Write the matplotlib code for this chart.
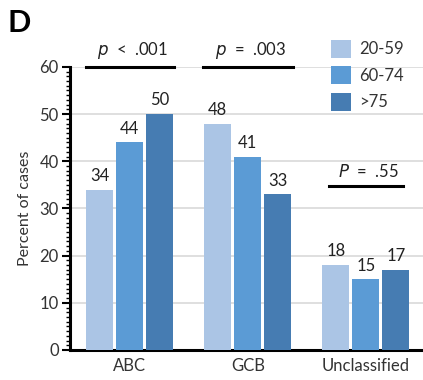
import numpy as np
import matplotlib.pyplot as plt
from matplotlib.ticker import MultipleLocator

plt.rcParams['font.family'] = ['Lato', 'DejaVu Sans']

categories = ['ABC', 'GCB', 'Unclassified']
age_groups = ['20-59', '60-74', '>75']
values = {
    '20-59': [34, 48, 18],
    '60-74': [44, 41, 15],
    '>75': [50, 33, 17],
}
p_labels = [r'$p$  <  .001', r'$p$  =  .003', r'$P$  =  .55']
p_line_y = [60, 60, 34.7]
p_half = [0.375, 0.38, 0.31]

colors = ['#abc5e5', '#5b9bd5', '#467cb2']

fig = plt.figure(figsize=(4.23, 3.80), dpi=100)
ax = fig.add_axes([0.165, 0.079, 0.835, 0.745])

x = np.arange(len(categories))
width = 0.229
step = 0.254
for i, grp in enumerate(age_groups):
    xs = x + (i - 1) * step
    ax.bar(xs, values[grp], width, color=colors[i], label=grp, zorder=3)
    for xx, v in zip(xs, values[grp]):
        ax.text(xx, v + 1.2, str(v), ha='center', va='bottom', fontsize=12, color='#222222')

# significance bars above each group
for xc, lab, ly, hw in zip(x, p_labels, p_line_y, p_half):
    ax.plot([xc - hw, xc + hw], [ly, ly], color='black', lw=2.2, clip_on=False, zorder=4)
    ax.text(xc + 0.02, ly + 1.3, lab, ha='center', va='bottom', fontsize=12, color='#222222')

ax.set_xlim(-0.508, 2.483)
ax.set_ylim(0, 60)
ax.yaxis.set_major_locator(MultipleLocator(10))
ax.yaxis.set_minor_locator(MultipleLocator(1))
ax.set_xticks(x)
ax.set_xticklabels(categories)
ax.tick_params(axis='x', length=0, labelsize=12, pad=6, colors='#333333')
ax.tick_params(axis='y', which='major', length=6, width=1.5, labelsize=12, colors='black', labelcolor='#333333', pad=2)
ax.tick_params(axis='y', which='minor', length=3, width=1)
ax.grid(axis='y', color='#d9d9d9', lw=1.2, zorder=0)
ax.set_axisbelow(True)

for s in ['top', 'right']:
    ax.spines[s].set_visible(False)
ax.spines['left'].set_linewidth(2.2)
ax.spines['bottom'].set_linewidth(2.2)

ax.set_ylabel('Percent of cases', fontsize=11.5, color='#333333', labelpad=5)

fig.legend(loc='upper left', bbox_to_anchor=(0.748, 0.935), frameon=False, fontsize=12,
           handlelength=1.2, handleheight=1.3, handletextpad=0.45, labelspacing=0.5,
           labelcolor='#333333')

fig.text(0.018, 0.975, 'D', fontsize=22, fontweight='bold', va='top', ha='left')

fig.savefig('out.png', dpi=100)
